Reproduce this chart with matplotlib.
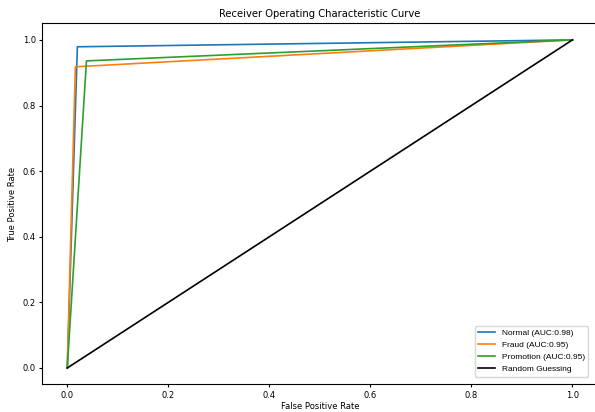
import matplotlib
matplotlib.use("Agg")
import matplotlib.pyplot as plt

# ROC points
fpr_normal = [0.0, 0.02, 1.0]
tpr_normal = [0.0, 0.979, 1.0]
fpr_fraud = [0.0, 0.016, 1.0]
tpr_fraud = [0.0, 0.918, 1.0]
fpr_promo = [0.0, 0.038, 1.0]
tpr_promo = [0.0, 0.936, 1.0]
labels = ["Normal (AUC:0.98)", "Fraud (AUC:0.95)", "Promotion (AUC:0.95)", "Random Guessing"]

fig = plt.figure(figsize=(5.95, 4.12), dpi=100)
ax = fig.add_axes([0.0706, 0.067, 0.934, 0.876])

ax.plot(fpr_normal, tpr_normal, color="#1f77b4", lw=1.2, label=labels[0])
ax.plot(fpr_fraud, tpr_fraud, color="#ff7f0e", lw=1.2, label=labels[1])
ax.plot(fpr_promo, tpr_promo, color="#2ca02c", lw=1.2, label=labels[2])
ax.plot([0, 1], [0, 1], color="black", lw=1.2, label=labels[3])

ax.set_title("Receiver Operating Characteristic Curve", fontsize=7.2, pad=5)
ax.set_xlabel("False Positive Rate", fontsize=6, labelpad=2)
ax.set_ylabel("True Positive Rate", fontsize=6, labelpad=4)
ax.tick_params(labelsize=6, length=2.5, pad=2)
ax.legend(loc="lower right", bbox_to_anchor=(0.99, 0.01),
          prop={"family": "Liberation Sans", "size": 6})

fig.savefig("out.png", dpi=100)
